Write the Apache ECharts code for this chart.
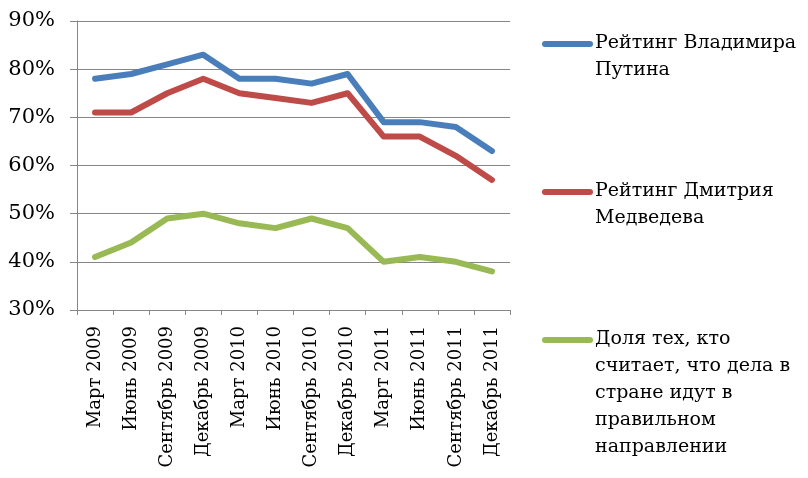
<!DOCTYPE html>
<html><head><meta charset="utf-8">
<script src="https://cdn.jsdelivr.net/npm/echarts@6/dist/echarts.min.js"></script>
<style>html,body{margin:0;padding:0;background:#fff}#c{width:808px;height:478px}</style>
</head><body><div id="c"></div>
<script>
var categories = ["Март 2009","Июнь 2009","Сентябрь 2009","Декабрь 2009","Март 2010","Июнь 2010","Сентябрь 2010","Декабрь 2010","Март 2011","Июнь 2011","Сентябрь 2011","Декабрь 2011"];
var putin = [78,79,81,83,78,78,77,79,69,69,68,63];
var medvedev = [71,71,75,78,75,74,73,75,66,66,62,57];
var rightDirection = [41,44,49,50,48,47,49,47,40,41,40,38];
var seriesNames = ["Рейтинг Владимира\nПутина","Рейтинг Дмитрия\nМедведева","Доля тех, кто\nсчитает, что дела в\nстране идут в\nправильном\nнаправлении"];
var colors = ["#4A7EBB","#BE4B48","#98B954"];
var font = "'DejaVu Serif',serif";

var chart = echarts.init(document.getElementById('c'), null, {renderer:'canvas'});
var legendTops = [44,192,340];
var graphics = [];
seriesNames.forEach(function(n,i){
  graphics.push({type:'line', shape:{x1:545,y1:legendTops[i],x2:590,y2:legendTops[i]}, style:{stroke:colors[i], lineWidth:6, lineCap:'round'}});
  graphics.push({type:'text', left:595, top:legendTops[i]-14, style:{text:n, font:"19px "+font, fill:'#000', lineHeight:27}});
});
chart.setOption({
  animation:false,
  color:colors,
  grid:{left:77,right:298,top:21,bottom:168,containLabel:false},
  xAxis:{type:'category',data:categories,boundaryGap:true,
    axisLine:{lineStyle:{color:'#868686',width:1}},
    axisTick:{show:true,length:5,lineStyle:{color:'#868686'}},
    axisLabel:{rotate:90,interval:0,margin:16,fontFamily:font,fontSize:18,color:'#000'}},
  yAxis:{type:'value',min:30,max:90,interval:10,
    axisLine:{show:true,lineStyle:{color:'#868686'}},
    axisTick:{show:true,length:7,lineStyle:{color:'#868686'}},
    splitLine:{lineStyle:{color:'#868686',width:1}},
    axisLabel:{formatter:'{value}%',margin:22,fontFamily:font,fontSize:21,color:'#000'}},
  graphic:graphics,
  series:[
    {name:seriesNames[0],type:'line',data:putin,showSymbol:false,lineStyle:{width:6,join:'round',cap:'round'}},
    {name:seriesNames[1],type:'line',data:medvedev,showSymbol:false,lineStyle:{width:6,join:'round',cap:'round'}},
    {name:seriesNames[2],type:'line',data:rightDirection,showSymbol:false,lineStyle:{width:6,join:'round',cap:'round'}}
  ]
});
</script></body></html>
